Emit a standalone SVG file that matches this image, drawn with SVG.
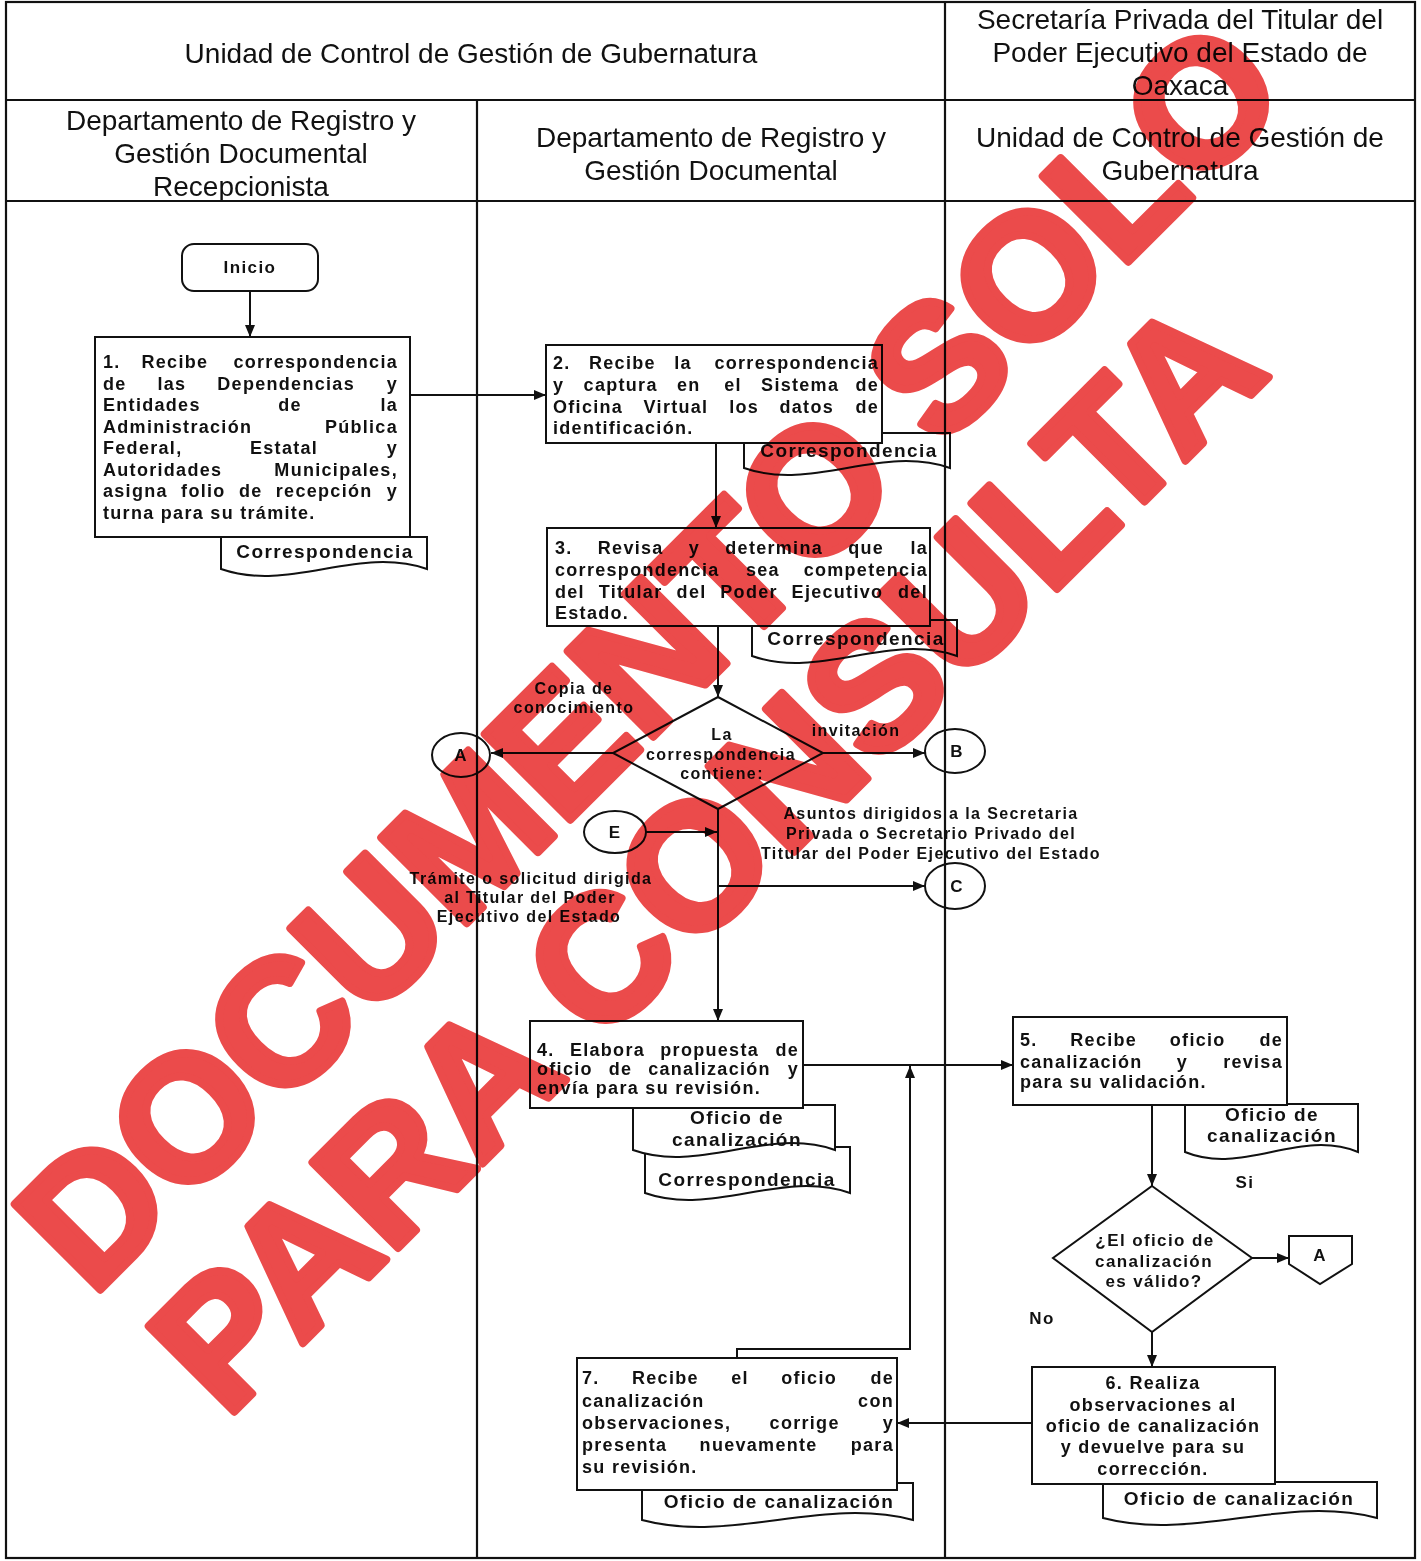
<svg xmlns="http://www.w3.org/2000/svg" width="1421" height="1561" viewBox="0 0 1421 1561">
<defs>
<marker id="ah" markerUnits="userSpaceOnUse" markerWidth="12" markerHeight="10" refX="12" refY="5" orient="auto"><path d="M0,0 L12,5 L0,10 Z" fill="#111"/></marker>
<style>
text{font-family:'Liberation Sans',Arial,sans-serif;fill:#111}
.h{font-size:28px;text-anchor:middle}
.t{font-size:18px;font-weight:bold;letter-spacing:1.3px}
.e{text-anchor:end}
.m{text-anchor:middle}
.d{font-size:19px;font-weight:bold;letter-spacing:1.4px;text-anchor:middle}
.l{font-size:16px;font-weight:bold;letter-spacing:1.4px;text-anchor:middle}
.l17{font-size:17px;font-weight:bold;letter-spacing:1.4px;text-anchor:middle}
.s{fill:none;stroke:#111;stroke-width:2}
.grid{fill:none;stroke:#111;stroke-width:2.2}
.c{fill:none;stroke:#111;stroke-width:2;marker-end:url(#ah)}
.wm{font-size:176px;font-weight:bold;fill:#eb4b4b;stroke:#eb4b4b;stroke-width:8;stroke-linejoin:round}
</style>
</defs>
<rect width="1421" height="1561" fill="#fff"/>

<g id="table">
<rect class="grid" x="6" y="2" width="1409" height="1556"/>
<path class="grid" d="M6,100 H1415 M6,201 H1415 M945,2 V1558 M477,100 V1558"/>
<text class="h" x="471" y="63">Unidad de Control de Gestión de Gubernatura</text>
<text class="h" x="1180" y="29">Secretaría Privada del Titular del</text>
<text class="h" x="1180" y="62">Poder Ejecutivo del Estado de</text>
<text class="h" x="1180" y="95">Oaxaca</text>
<text class="h" x="241" y="130">Departamento de Registro y</text>
<text class="h" x="241" y="163">Gestión Documental</text>
<text class="h" x="241" y="196">Recepcionista</text>
<text class="h" x="711" y="147">Departamento de Registro y</text>
<text class="h" x="711" y="180">Gestión Documental</text>
<text class="h" x="1180" y="147">Unidad de Control de Gestión de</text>
<text class="h" x="1180" y="180">Gubernatura</text>
</g>

<g id="connectors">
<path class="c" d="M250,291 V337"/>
<path class="c" d="M410,395 H546"/>
<path class="c" d="M716,443 V528"/>
<path class="c" d="M718,626 V697"/>
<path class="c" d="M613,753 H491"/>
<path class="c" d="M823,753 H925"/>
<path class="c" d="M718,809 V1021"/>
<path class="c" d="M646,832 H717"/>
<path class="c" d="M718,886 H925"/>
<path class="c" d="M803,1065 H1013"/>
<path class="c" d="M1152,1105 V1186"/>
<path class="c" d="M1252,1258 H1289"/>
<path class="c" d="M1152,1332 V1367"/>
<path class="c" d="M1032,1423 H897"/>
<path class="c" d="M737,1358 V1349 H910 V1066"/>
<text class="l" x="574" y="694">Copia de</text>
<text class="l" x="574" y="713">conocimiento</text>
<text class="l" x="856" y="736">invitación</text>
<text class="l" x="931" y="819">Asuntos dirigidos a la Secretaria</text>
<text class="l" x="931" y="839">Privada o Secretario Privado del</text>
<text class="l" x="931" y="859">Titular del Poder Ejecutivo del Estado</text>
<text class="l" x="531" y="884">Trámite o solicitud dirigida</text>
<text class="l" x="530" y="903">al Titular del Poder</text>
<text class="l" x="529" y="922">Ejecutivo del Estado</text>
<text class="l17" x="1245" y="1188">Si</text>
<text class="l17" x="1042" y="1324">No</text>
</g>

<g id="inicio">
<rect class="s" x="182" y="244" width="136" height="47" rx="12"/>
<text class="l17" x="250" y="273">Inicio</text>
</g>

<g id="paso1">
<rect class="s" x="95" y="337" width="315" height="200"/>
<text class="t" y="368"><tspan x="103">1.</tspan><tspan x="141.5">Recibe</tspan></text><text class="t e" x="398" y="368">correspondencia</text>
<text class="t" y="390"><tspan x="103">de</tspan><tspan x="157.5">las</tspan><tspan x="217.3">Dependencias</tspan></text><text class="t e" x="398" y="390">y</text>
<text class="t" y="411"><tspan x="103">Entidades</tspan><tspan x="278.2">de</tspan></text><text class="t e" x="398" y="411">la</text>
<text class="t" x="103" y="433">Administración</text><text class="t e" x="398" y="433">Pública</text>
<text class="t" y="454"><tspan x="103">Federal,</tspan><tspan x="250">Estatal</tspan></text><text class="t e" x="398" y="454">y</text>
<text class="t" x="103" y="476">Autoridades</text><text class="t e" x="398" y="476">Municipales,</text>
<text class="t" y="497"><tspan x="103">asigna</tspan><tspan x="181.1">folio</tspan><tspan x="238.9">de</tspan><tspan x="275.8">recepción</tspan></text><text class="t e" x="398" y="497">y</text>
<text class="t" x="103" y="519">turna para su trámite.</text>
<path class="s" d="M410,537 H427 V569 C358,545 290,593 221,569 V537"/>
<text class="d" x="325" y="558">Correspondencia</text>
</g>

<g id="paso2">
<rect class="s" x="546" y="345" width="336" height="98"/>
<text class="t" y="369"><tspan x="553">2.</tspan><tspan x="589">Recibe</tspan><tspan x="674.2">la</tspan></text><text class="t e" x="879" y="369">correspondencia</text>
<text class="t" y="391"><tspan x="553">y</tspan><tspan x="583.6">captura</tspan><tspan x="677">en</tspan><tspan x="724.2">el</tspan><tspan x="761.1">Sistema</tspan></text><text class="t e" x="879" y="391">de</text>
<text class="t" y="413"><tspan x="553">Oficina</tspan><tspan x="643.6">Virtual</tspan><tspan x="729.2">los</tspan><tspan x="779.5">datos</tspan></text><text class="t e" x="879" y="413">de</text>
<text class="t" x="553" y="434">identificación.</text>
<path class="s" d="M882,433 H950 V468 C881,444 813,492 744,468 V443"/>
<text class="d" x="849" y="457">Correspondencia</text>
</g>

<g id="paso3">
<rect class="s" x="547" y="528" width="383" height="98"/>
<text class="t" y="554"><tspan x="555">3.</tspan><tspan x="597.8">Revisa</tspan><tspan x="688.8">y</tspan><tspan x="725.3">determina</tspan><tspan x="848.2">que</tspan></text><text class="t e" x="928" y="554">la</text>
<text class="t" y="576"><tspan x="555">correspondencia</tspan><tspan x="745.9">sea</tspan></text><text class="t e" x="928" y="576">competencia</text>
<text class="t" y="598"><tspan x="555">del</tspan><tspan x="598.7">Titular</tspan><tspan x="676.6">del</tspan><tspan x="720.3">Poder</tspan><tspan x="791.6">Ejecutivo</tspan></text><text class="t e" x="928" y="598">del</text>
<text class="t" x="555" y="619">Estado.</text>
<path class="s" d="M930,620 H957 V656 C889,632 820,680 752,656 V626"/>
<text class="d" x="856" y="645">Correspondencia</text>
</g>

<g id="decision1">
<polygon class="s" points="718,697 823,753 718,809 613,753"/>
<text class="l" x="722" y="740">La</text>
<text class="l" x="721" y="760">correspondencia</text>
<text class="l" x="722" y="779">contiene:</text>
</g>

<g id="conectorA">
<ellipse class="s" cx="461" cy="755" rx="29" ry="22"/>
<text class="l17" x="461" y="761">A</text>
</g>
<g id="conectorB">
<ellipse class="s" cx="955" cy="751" rx="30" ry="22"/>
<text class="l17" x="957" y="757">B</text>
</g>
<g id="conectorE">
<ellipse class="s" cx="615" cy="832" rx="31" ry="21"/>
<text class="l17" x="615" y="838">E</text>
</g>
<g id="conectorC">
<ellipse class="s" cx="955" cy="886" rx="30" ry="23"/>
<text class="l17" x="957" y="892">C</text>
</g>

<g id="paso4">
<rect class="s" x="530" y="1021" width="273" height="87"/>
<text class="t" y="1056"><tspan x="537">4.</tspan><tspan x="569.9">Elabora</tspan><tspan x="660.3">propuesta</tspan></text><text class="t e" x="799" y="1056">de</text>
<text class="t" y="1075"><tspan x="537">oficio</tspan><tspan x="608.7">de</tspan><tspan x="648.2">canalización</tspan></text><text class="t e" x="799" y="1075">y</text>
<text class="t" x="537" y="1094">envía para su revisión.</text>
<path class="s" d="M803,1105 H835 V1150 C768,1126 700,1174 633,1150 V1108"/>
<text class="d" x="737" y="1124">Oficio de</text>
<text class="d" x="737" y="1146">canalización</text>
<path class="s" d="M835,1147 H850 V1193 C782,1169 713,1217 645,1193 V1153"/>
<text class="d" x="747" y="1186">Correspondencia</text>
</g>

<g id="paso5">
<rect class="s" x="1013" y="1017" width="274" height="88"/>
<text class="t" y="1046"><tspan x="1020">5.</tspan><tspan x="1070.3">Recibe</tspan><tspan x="1169.8">oficio</tspan></text><text class="t e" x="1283" y="1046">de</text>
<text class="t" y="1068"><tspan x="1020">canalización</tspan><tspan x="1176.8">y</tspan></text><text class="t e" x="1283" y="1068">revisa</text>
<text class="t" x="1020" y="1088">para su validación.</text>
<path class="s" d="M1287,1104 H1358 V1152 C1300,1128 1243,1176 1185,1152 V1105"/>
<text class="d" x="1272" y="1121">Oficio de</text>
<text class="d" x="1272" y="1142">canalización</text>
</g>

<g id="decision2">
<polygon class="s" points="1152,1186 1252,1258 1152,1332 1053,1258"/>
<text class="l17" x="1155" y="1246">¿El oficio de</text>
<text class="l17" x="1154" y="1267">canalización</text>
<text class="l17" x="1154" y="1287">es válido?</text>
</g>

<g id="conectorPaginaA">
<polygon class="s" points="1289,1236 1352,1236 1352,1264 1320,1284 1289,1264"/>
<text class="l17" x="1320" y="1261">A</text>
</g>

<g id="paso6">
<rect class="s" x="1032" y="1367" width="243" height="117"/>
<text class="t m" x="1153" y="1389">6. Realiza</text>
<text class="t m" x="1153" y="1411">observaciones al</text>
<text class="t m" x="1153" y="1432">oficio de canalización</text>
<text class="t m" x="1153" y="1453">y devuelve para su</text>
<text class="t m" x="1153" y="1475">corrección.</text>
<path class="s" d="M1275,1482 H1377 V1518 C1286,1494 1194,1542 1103,1518 V1484"/>
<text class="d" x="1239" y="1505">Oficio de canalización</text>
</g>

<g id="paso7">
<rect class="s" x="577" y="1358" width="320" height="132"/>
<text class="t" y="1384"><tspan x="582">7.</tspan><tspan x="632">Recibe</tspan><tspan x="731.2">el</tspan><tspan x="781.2">oficio</tspan></text><text class="t e" x="894" y="1384">de</text>
<text class="t" x="582" y="1407">canalización</text><text class="t e" x="894" y="1407">con</text>
<text class="t" y="1429"><tspan x="582">observaciones,</tspan><tspan x="769.6">corrige</tspan></text><text class="t e" x="894" y="1429">y</text>
<text class="t" x="582" y="1451">presenta</text><text class="t" x="699.6" y="1451">nuevamente</text><text class="t e" x="894" y="1451">para</text>
<text class="t" x="582" y="1473">su revisión.</text>
<path class="s" d="M897,1483 H913 V1520 C823,1496 732,1544 642,1520 V1490"/>
<text class="d" x="779" y="1508">Oficio de canalización</text>
</g>

<g id="watermark" style="mix-blend-mode:multiply">
<text class="wm" transform="translate(92,1298) rotate(-45)">DOCUMENTO SOLO</text>
<text class="wm" transform="translate(226,1420) rotate(-45)">PARA CONSULTA</text>
</g>
</svg>
